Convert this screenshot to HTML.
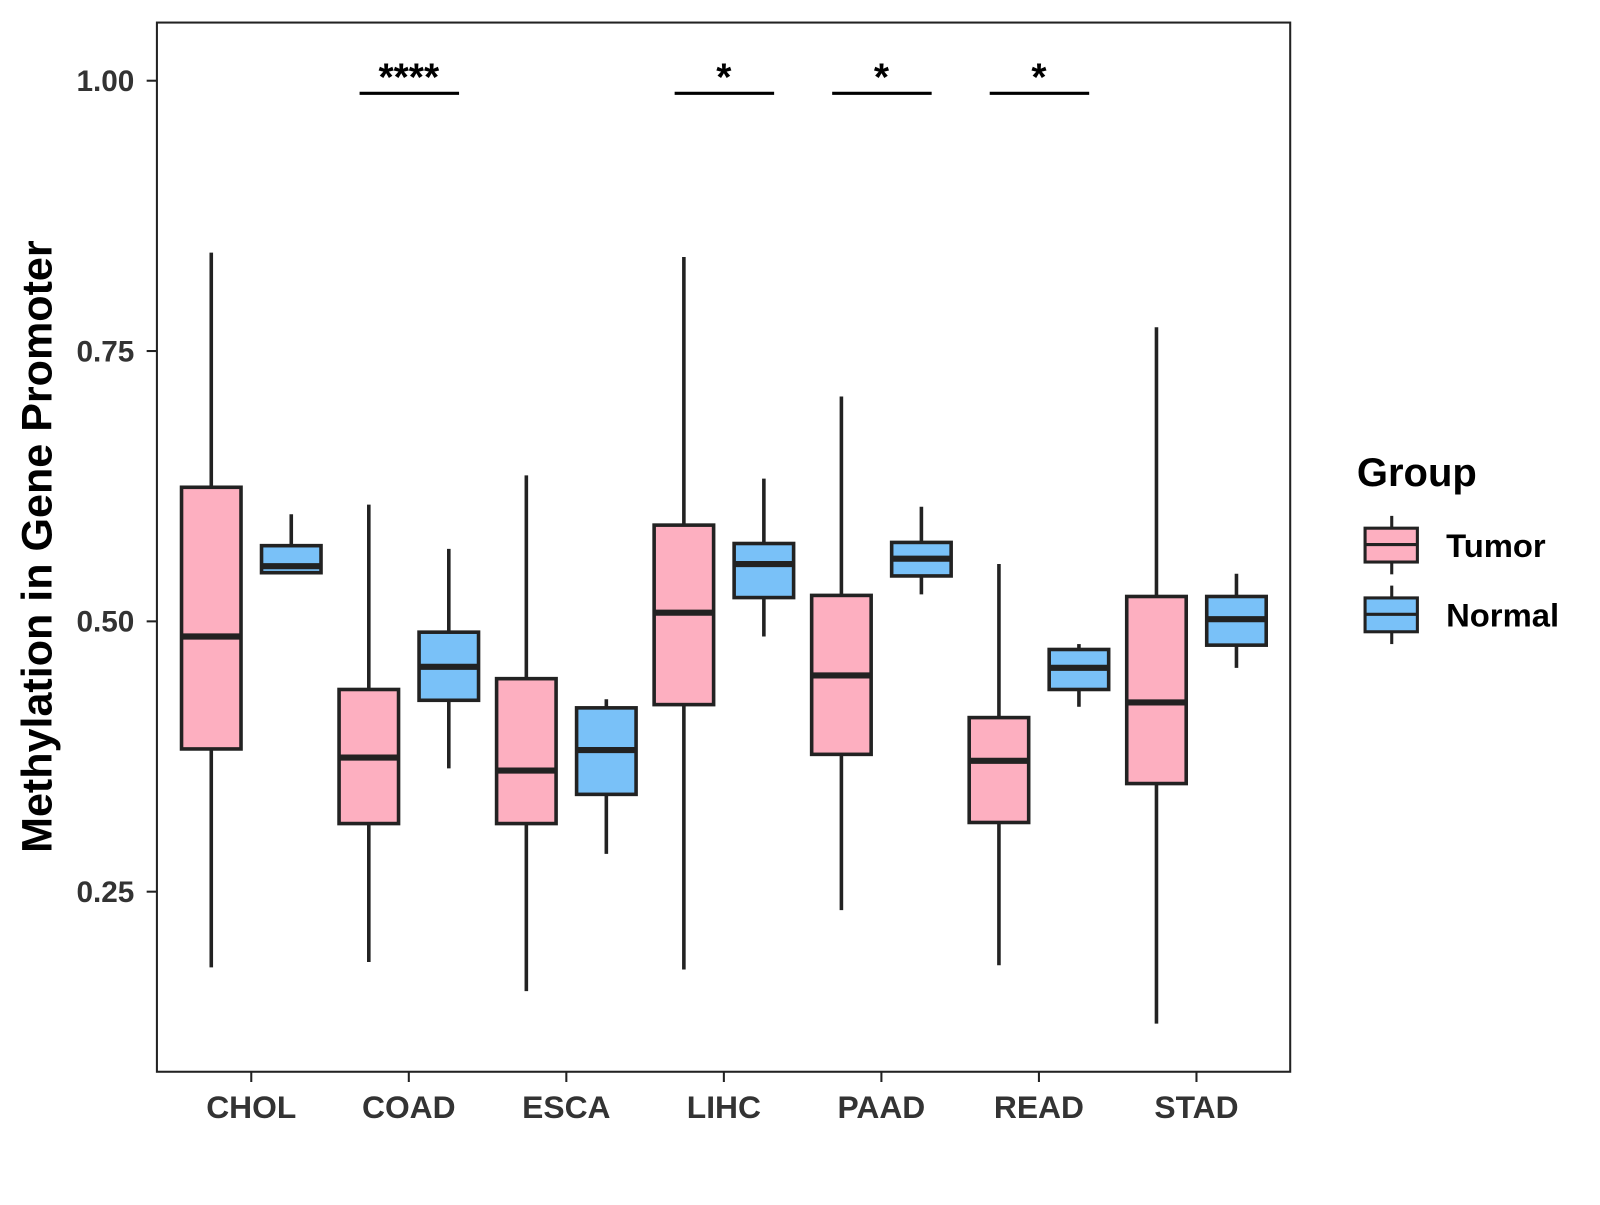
<!DOCTYPE html>
<html><head><meta charset="utf-8"><style>
body{margin:0;background:#fff;}
svg text{font-family:"Liberation Sans",Arial,sans-serif;font-weight:bold;}
</style></head><body>
<svg id="chart" width="1600" height="1200" xmlns="http://www.w3.org/2000/svg">
<g transform="scale(1.0256)">
<rect x="153" y="22" width="1105" height="1023" fill="#fff" stroke="#222" stroke-width="2"/>
<g id="marks"></g>
<text x="39" y="533" transform="rotate(-90 39 533)" text-anchor="middle" dominant-baseline="middle" font-size="42" fill="#000">Methylation in Gene Promoter</text>
<g>
<text x="1323" y="474" font-size="39" fill="#000">Group</text>
<g>
<line x1="1357" y1="503" x2="1357" y2="560" stroke="#222" stroke-width="3"/>
<rect x="1331" y="515" width="51" height="33" fill="#FDAFC0" stroke="#222" stroke-width="3"/>
<line x1="1331" y1="531" x2="1382" y2="531" stroke="#222" stroke-width="3"/>
<text x="1410" y="543" font-size="32" fill="#000">Tumor</text></g>
<g>
<line x1="1357" y1="571" x2="1357" y2="628" stroke="#222" stroke-width="3"/>
<rect x="1331" y="583" width="51" height="33" fill="#79C1F8" stroke="#222" stroke-width="3"/>
<line x1="1331" y1="599" x2="1382" y2="599" stroke="#222" stroke-width="3"/>
<text x="1410" y="611" font-size="32" fill="#000">Normal</text></g>
</g>
</g>
</svg>
<script>
const categories=["CHOL","COAD","ESCA","LIHC","PAAD","READ","STAD"];
// [low, q1, median, q3, high]
const tumorStats=[[0.180,0.382,0.486,0.624,0.841],[0.185,0.313,0.374,0.437,0.608],[0.158,0.313,0.362,0.447,0.635],[0.178,0.423,0.508,0.589,0.837],[0.233,0.377,0.450,0.524,0.708],[0.182,0.314,0.371,0.411,0.553],[0.128,0.350,0.425,0.523,0.772]];
const normalStats=[[0.545,0.545,0.551,0.570,0.599],[0.364,0.427,0.458,0.490,0.567],[0.285,0.340,0.381,0.420,0.428],[0.486,0.522,0.553,0.572,0.632],[0.525,0.542,0.558,0.573,0.606],[0.421,0.437,0.457,0.474,0.479],[0.457,0.478,0.502,0.523,0.544]];
const signif=["","****","","*","*","*",""];
const yTicks=[0.25,0.50,0.75,1.00];
const yTickLabels=["0.25","0.50","0.75","1.00"];

const NS="http://www.w3.org/2000/svg";
const svg=document.getElementById('marks');
const yScale=v=>78.7+(1-v)*1054.3;
const xScale=i=>245+i*153.6;
function mk(tag,attrs,parent){const e=document.createElementNS(NS,tag);for(const k in attrs)e.setAttribute(k,attrs[k]);(parent||svg).appendChild(e);return e;}

yTicks.forEach((t,i)=>{
  const y=yScale(t);
  const tk=mk('line',{x1:143,x2:153,y1:y,y2:y,stroke:'#222','stroke-width':2});
  
  
  const tx=mk('text',{x:131,y:y+10,'text-anchor':'end','font-size':29,fill:'#333'});
  tx.textContent=yTickLabels[i];
  
  
});
categories.forEach((c,i)=>{
  const x=xScale(i);
  const tk=mk('line',{x1:x,x2:x,y1:1045,y2:1055,stroke:'#222','stroke-width':2});
  
  
  const tx=mk('text',{x:x,y:1090,'text-anchor':'middle','font-size':31,fill:'#333'});
  tx.textContent=c;
  
  
});
function box(cx,s,fill,name){
  const g=mk('g',{});
  
  
  mk('line',{x1:cx,x2:cx,y1:yScale(s[4]),y2:yScale(s[0]),stroke:'#222','stroke-width':3.5},g);
  mk('rect',{x:cx-29,y:yScale(s[3]),width:58,height:yScale(s[1])-yScale(s[3]),fill:fill,stroke:'#222','stroke-width':3.5},g);
  mk('line',{x1:cx-29,x2:cx+29,y1:yScale(s[2]),y2:yScale(s[2]),stroke:'#222','stroke-width':6},g);
}
categories.forEach((c,i)=>{
  box(xScale(i)-39,tumorStats[i],'#FDAFC0','box-'+c.toLowerCase()+'-tumor');
  box(xScale(i)+39,normalStats[i],'#79C1F8','box-'+c.toLowerCase()+'-normal');
  if(signif[i]){
    const l=mk('line',{x1:xScale(i)-48,x2:xScale(i)+49,y1:91,y2:91,stroke:'#000','stroke-width':3});
    
    
    const t=mk('text',{x:xScale(i),y:88,'text-anchor':'middle','font-size':38,fill:'#000'});
    t.textContent=signif[i];
    
    
  }
});
</script>
</body></html>
